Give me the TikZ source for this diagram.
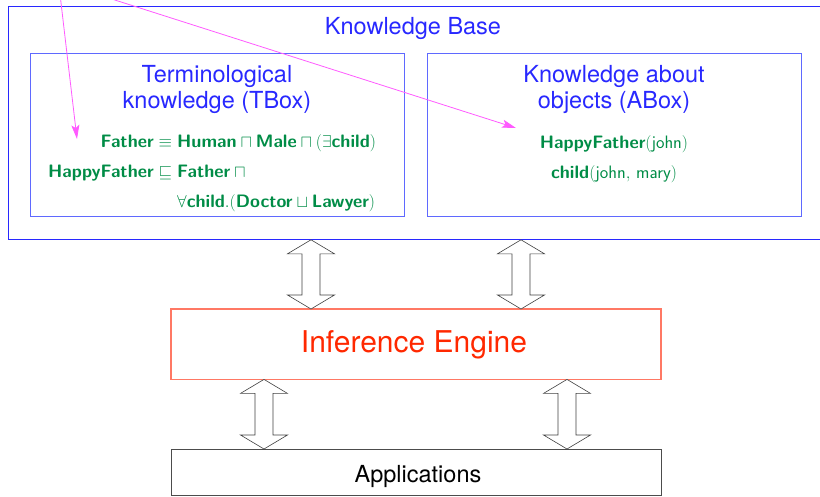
\documentclass[tikz,border=0pt]{standalone}
\usepackage{fontspec}
\setmainfont{TeX Gyre Heros}
\usepackage{amssymb}
\usetikzlibrary{arrows.meta,calc}
\definecolor{kbblue}{RGB}{40,40,255}
\definecolor{boxblue}{RGB}{95,105,255}
\definecolor{dlgreen}{RGB}{0,140,70}
\definecolor{iered}{RGB}{255,40,0}
\definecolor{ieedge}{RGB}{255,120,100}
\definecolor{linkpink}{RGB}{255,90,255}

\newcommand{\cn}[1]{\textsf{\textbf{#1}}}
\newcommand{\ind}[1]{\textsf{#1}}
% hollow two-headed block arrow, top point #1, bottom point #2
\newcommand{\updown}[2]{%
  \draw[blockarrow] (#1) -- ++(-23.5,14) -- ++(14.5,0) -- ($(#2)+(-9,-14)$)
    -- ++(-14.5,0) -- (#2) -- ++(23.5,-14) -- ++(-14.5,0)
    -- ($(#1)+(9,14)$) -- ++(14.5,0) -- cycle;}

\begin{document}
\begin{tikzpicture}[x=1pt,y=-1pt,
    kbbox/.style={draw=boxblue, line width=0.8pt, anchor=north west, inner sep=0pt},
    title/.style={text=kbblue, font=\fontsize{23.5}{26}\selectfont, inner sep=0pt, anchor=base},
    dl/.style={text=dlgreen, font=\fontsize{18}{30}\selectfont, inner sep=0pt},
    blockarrow/.style={draw=black!75, fill=white, line width=0.6pt},
    link/.style={linkpink, line width=0.8pt, -{Stealth[length=14pt,width=8pt,inset=3pt]}}]
  \useasboundingbox (0,0) rectangle (820,496);
  \clip (0,0) rectangle (820,496);

  % knowledge base
  \node[kbbox, draw=kbblue, minimum width=840, minimum height=233] (kb) at (7.5,6) {};
  \node[title] (kbtitle) at (413,34.5) {Knowledge Base};
  \node[kbbox, minimum width=374, minimum height=163] (tbox) at (30,53) {};
  \node[kbbox, minimum width=374, minimum height=163] (abox) at (427,53) {};
  \node[title] (ttitle) at (217,82)
    {\begin{tabular}[t]{@{}c@{}}Terminological\\knowledge (TBox)\end{tabular}};
  \node[title] (atitle) at (614,82)
    {\begin{tabular}[t]{@{}c@{}}Knowledge about\\objects (ABox)\end{tabular}};

  \node[dl, anchor=base west] (tdefs) at (48,147)
    {\begin{tabular}[t]{@{}r@{\hspace{5pt}}c@{\hspace{5pt}}l@{}}
      \cn{Father} & $\equiv$ & $\cn{Human} \sqcap \cn{Male} \sqcap (\exists\cn{child})$ \\
      \cn{HappyFather} & $\sqsubseteq$ & $\cn{Father} \sqcap {}$ \\
       & & $\forall\cn{child}.(\cn{Doctor} \sqcup \cn{Lawyer})$
    \end{tabular}};
  \node[dl, anchor=base] (afacts) at (614,148)
    {\begin{tabular}[t]{@{}c@{}}
      $\cn{HappyFather}(\ind{john})$ \\
      $\cn{child}(\ind{john},\, \ind{mary})$
    \end{tabular}};

  % engine and applications
  \node[anchor=north west, inner sep=0pt, minimum width=489.5, minimum height=70] (ie) at (171,309) {};
  \draw[ieedge, line width=1.2pt] (ie.north west) rectangle (ie.south east);
  \node[anchor=base, inner sep=0pt, text=iered, font=\fontsize{30}{36}\selectfont]
    (ietext) at (414,352) {Inference Engine};
  \node[kbbox, draw=black!70, minimum width=489.5, minimum height=46] (app) at (171,449) {};
  \node[anchor=base, inner sep=0pt, font=\fontsize{23.5}{28}\selectfont]
    (apptext) at (418,482) {Applications};

  \foreach \x/\n in {311/1, 521/2} {
    \coordinate (kbup\n) at (\x,0 |- kb.south);
    \coordinate (iedn\n) at (\x,0 |- ie.north);
    \updown{kbup\n}{iedn\n}
  }
  \foreach \x/\n in {264/1, 567/2} {
    \coordinate (ieup\n) at (\x,0 |- ie.south);
    \coordinate (appdn\n) at (\x,0 |- app.north);
    \updown{ieup\n}{appdn\n}
  }

  % pointers from above
  \coordinate (from1) at (59.5,-10);
  \coordinate (from2) at (83.5,-10);
  \coordinate (to1) at (77,139);
  \coordinate (to2) at (516,128);
  \draw[link] (from1) -- (to1);
  \draw[link] (from2) -- (to2);
\end{tikzpicture}
\end{document}
